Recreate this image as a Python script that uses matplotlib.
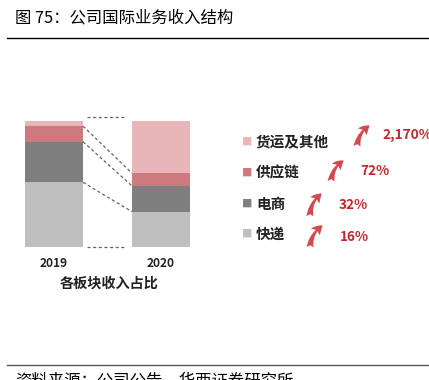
import matplotlib.pyplot as plt
from matplotlib.patches import FancyArrowPatch
from matplotlib.lines import Line2D

plt.rcParams['font.family'] = ['Noto Sans CJK SC', 'DejaVu Sans']

# shares of international revenue (%), bottom to top
years = ['2019', '2020']
segments = ['快递', '电商', '供应链', '货运及其他']
share_2019 = [51.1, 32.2, 12.4, 4.3]
share_2020 = [27.8, 20.4, 10.1, 41.7]
growth = ['16%', '32%', '72%', '2,170%']
colors = ['#bfbfbf', '#7f7f7f', '#cc7a7e', '#e8b6b8']

W, H = 429, 380
fig = plt.figure(figsize=(W / 100, H / 100), dpi=100)


def fx(px):
    return px / W


def fy(py):
    return 1 - py / H


# title + rule
fig.text(fx(15), fy(18), '图 75：公司国际业务收入结构', fontsize=11.8, va='center', ha='left')
fig.add_artist(Line2D([fx(7), 1], [fy(37.5), fy(37.5)], color='black', lw=1))

# bar panel
ax = fig.add_axes([fx(0.5), fy(246.7), 214 / W, 126 / H])
ax.set_xlim(-0.5, 1.5)
ax.set_ylim(0, 100)
ax.axis('off')

bw = 0.542
bottoms = [0, 0]
for i in range(len(segments)):
    vals = [share_2019[i], share_2020[i]]
    ax.bar([0, 1], vals, width=bw, bottom=bottoms, color=colors[i], lw=0)
    bottoms = [bottoms[0] + vals[0], bottoms[1] + vals[1]]

# dashed connectors between boundaries
c19, c20 = 0, 0
for i in range(len(segments) - 1):
    c19 += share_2019[i]
    c20 += share_2020[i]
    ax.plot([bw / 2, 1 - bw / 2], [c19, c20], ls=(0, (2.5, 2)), color='#666666', lw=0.9, clip_on=False)
ax.plot([0.31, 0.665], [103.2, 103.2], ls=(0, (2.5, 2)), color='#666666', lw=0.9, clip_on=False)
ax.plot([0.31, 0.665], [-0.5, -0.5], ls=(0, (2.5, 2)), color='#666666', lw=0.9, clip_on=False)

for i, y in enumerate(years):
    ax.text(i, -13.5, y, ha='center', va='center', fontsize=8.6, fontweight='bold', color='#222222')
fig.text(fx(109), fy(284), '各板块收入占比', ha='center', va='center', fontsize=10.2, fontweight='bold', color='#222222')

# legend with growth arrows
leg_y = [234, 204, 172.7, 141.7]
arrows = [((310, 250), (325, 224)), ((310, 219), (324, 192)), ((331, 184), (346, 159)), ((357, 149), (372, 124))]
pct_xy = [(340, 237), (339, 205), (360, 171), (382, 135)]
for i in range(len(segments)):
    fig.text(fx(246.7), fy(leg_y[i]), '■', ha='center', va='center', fontsize=7.5, color=colors[i])
    fig.text(fx(256), fy(leg_y[i]), segments[i], ha='left', va='center', fontsize=10.5, fontweight='bold', color='#222222')
    (x0, y0), (x1, y1) = arrows[i]
    fig.add_artist(FancyArrowPatch((fx(x0), fy(y0)), (fx(x1), fy(y1)), transform=fig.transFigure,
                                   connectionstyle='arc3,rad=-0.3',
                                   arrowstyle='fancy,head_width=8,head_length=7,tail_width=5',
                                   color='#d04a4e', lw=0))
    fig.text(fx(pct_xy[i][0]), fy(pct_xy[i][1]), growth[i], ha='left', va='center', fontsize=9.8,
             fontweight='bold', color='#c0272d')

# bottom rule + source
fig.add_artist(Line2D([fx(7), 1], [fy(365), fy(365)], color='#555555', lw=1))
fig.text(fx(15), fy(372), '资料来源：公司公告，华西证券研究所', fontsize=11.8, va='top', ha='left')

fig.savefig('out.png', dpi=100)
